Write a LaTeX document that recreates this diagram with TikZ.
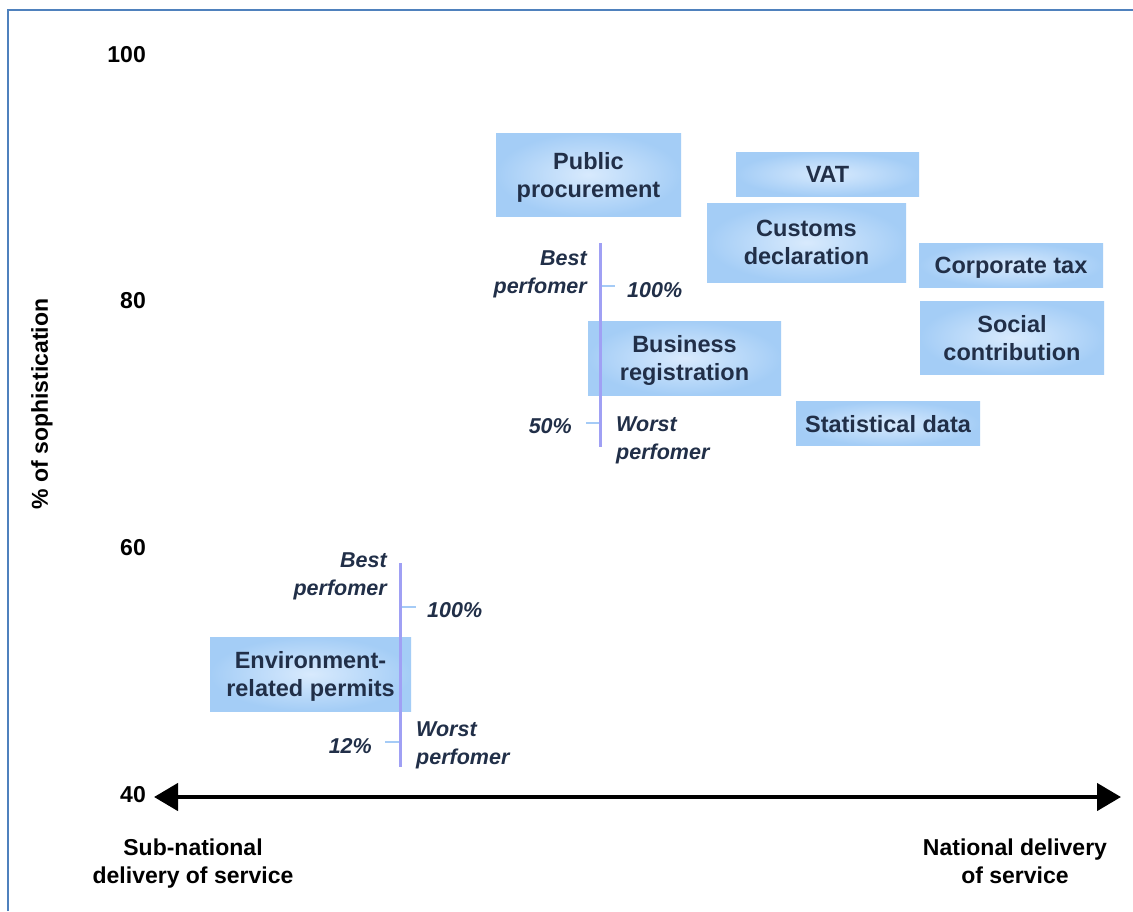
\documentclass[tikz,border=0pt]{standalone}
\usepackage{fontspec}
\setmainfont{Liberation Sans}
\usetikzlibrary{arrows.meta}
\definecolor{navytext}{RGB}{33,47,72}
\definecolor{boxout}{RGB}{164,205,246}
\definecolor{boxin}{RGB}{216,234,253}
\definecolor{perfline}{RGB}{160,160,244}
\definecolor{tickblue}{RGB}{165,203,246}
\definecolor{framecol}{RGB}{79,129,189}
\tikzset{
  svc/.style={shading=radial, inner color=boxin, outer color=boxout, inner sep=0pt,
    align=center, text=navytext, text depth=0pt, font=\fontsize{23.5}{28}\selectfont\bfseries},
  axlab/.style={font=\fontsize{23}{28}\selectfont\bfseries, text=black, inner sep=0pt},
  perf/.style={font=\fontsize{21.5}{28}\selectfont\bfseries\itshape, text=navytext, inner sep=0pt},
  perfbar/.style={draw=perfline, line width=3pt},
  perftick/.style={draw=tickblue, line width=2.4pt},
  frameline/.style={draw=framecol, line width=2.2pt},
}
\begin{document}
\begin{tikzpicture}[x=1pt,y=-1pt]
\useasboundingbox (0,0) rectangle (1133,911);
\fill[white] (0,0) rectangle (1133,911);
% frame
\coordinate (f1) at (8,911);
\coordinate (f2) at (8,10);
\coordinate (f3) at (1133,10);
\draw[frameline] (f1) -- (f2) -- (f3);

% axis tick labels
\node[axlab, anchor=east] (t100) at (146,55) {100};
\node[axlab, anchor=east] (t80) at (146,301) {80};
\node[axlab, anchor=east] (t60) at (146,548) {60};
\node[axlab, anchor=east] (t40) at (146,795) {40};
\node[axlab, rotate=90] (ylab) at (42,404) {\% of sophistication};

% horizontal axis
\coordinate (axL) at (154,797);
\coordinate (axR) at (1121,797);
\draw[line width=4.5pt, {Triangle[width=27pt,length=24pt]}-{Triangle[width=27pt,length=24pt]}] (axL) -- (axR);
\node[axlab, align=center] (subnat) at (193,864) {Sub-national\\delivery of service};
\node[axlab, align=center] (nat) at (1015,861) {National delivery\\of service};

% service boxes
\node[svc, minimum width=185pt, minimum height=83pt] (pp) at (588.5,174.5) {Public\\procurement};
\node[svc, minimum width=183pt, minimum height=44pt] (vat) at (827.5,174) {VAT};
\node[svc, minimum width=199pt, minimum height=79pt] (cd) at (806.5,242.5) {Customs\\declaration};
\node[svc, minimum width=184pt, minimum height=44pt] (ct) at (1011,265) {Corporate tax};
\node[svc, minimum width=184pt, minimum height=73pt] (sc) at (1012,337.5) {Social\\contribution};
\node[svc, minimum width=193pt, minimum height=74pt] (br) at (684.5,358) {Business\\registration};
\node[svc, minimum width=184pt, minimum height=44pt] (sd) at (888,423.5) {Statistical data};
\node[svc, minimum width=201pt, minimum height=74pt] (env) at (310.5,674) {Environment-\\related permits};

% upper performer scale
\coordinate (ub1) at (600,243);
\coordinate (ub2) at (600,447);
\coordinate (ut1a) at (600,286);
\coordinate (ut1b) at (615,286);
\coordinate (ut2a) at (586,423);
\coordinate (ut2b) at (600,423);
\draw[perftick] (ut1a) -- (ut1b);
\draw[perftick] (ut2a) -- (ut2b);
\draw[perfbar] (ub1) -- (ub2);
\node[perf, anchor=east, align=right] (ubest) at (587,274) {Best\\perfomer};
\node[perf, anchor=west] (u100) at (627,290) {100\%};
\node[perf, anchor=east] (u50) at (572,426) {50\%};
\node[perf, anchor=west, align=left] (uworst) at (616,440) {Worst\\perfomer};

% lower performer scale
\coordinate (lb1) at (400,563);
\coordinate (lb2) at (400,767);
\coordinate (lt1a) at (400,607);
\coordinate (lt1b) at (416,607);
\coordinate (lt2a) at (385,742);
\coordinate (lt2b) at (400,742);
\draw[perftick] (lt1a) -- (lt1b);
\draw[perftick] (lt2a) -- (lt2b);
\draw[perfbar] (lb1) -- (lb2);
\node[perf, anchor=east, align=right] (lbest) at (387,576) {Best\\perfomer};
\node[perf, anchor=west] (l100) at (427,610) {100\%};
\node[perf, anchor=east] (l12) at (372,746) {12\%};
\node[perf, anchor=west, align=left] (lworst) at (416,745) {Worst\\perfomer};
\end{tikzpicture}
\end{document}
